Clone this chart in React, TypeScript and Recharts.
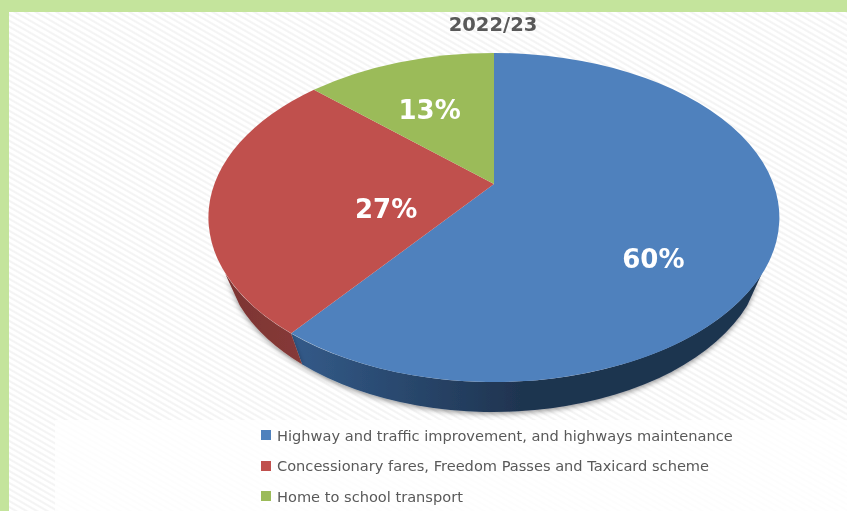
import React from "react";
import { PieChart, Pie, Legend } from "recharts";

const categories = [
    "Highway and traffic improvement, and highways maintenance",
    "Concessionary fares, Freedom Passes and Taxicard scheme",
    "Home to school transport",
];
const shares = [60.4, 26.5, 13.1];
const shareLabels = ["60%", "27%", "13%"];
const faceColors = ["#4f81bd", "#c0504d", "#9bbb59"];
const wallFills = ["url(#wallBlue)", "url(#wallRed)", "#6f8a3c"];

const tableData = categories.map((name, i) => ({
    name,
    value: shares[i],
    fill: faceColors[i],
    wall: wallFills[i],
}));

// the pie is tilted: hub sits above the middle of the ellipse
const HUB = { x: 494, y: 184 };
const TOP = { cx: 493.5, cy: 217.5, rx: 285.5, ry: 164.5 };
const BOTTOM = { cx: 493.5, cy: 250, rx: 270, ry: 162 };
const K = -0.2036;
const SX = 279.6;
const SY = 157.7;
// side wall only shows between these ellipse angles
const WALL_FROM = 110;
const WALL_TO = 250;

// nudge from the projected mid-slice spot, same order as categories
const labelNudge = [
    [-6, 43],
    [61, 17],
    [-4, 4],
];

// plane circle -> screen, clockwise degrees from 12 o'clock
const project = (deg: number, r = 1) => {
    const a = (deg * Math.PI) / 180;
    const X = r * Math.sin(a);
    const Y = -r * Math.cos(a);
    const w = 1 + K * Y;
    return { x: HUB.x + (SX * X) / w, y: HUB.y + (SY * Y) / w };
};

// parametric angle of a screen point on the top ellipse
const paramOf = (deg: number) => {
    const p = project(deg);
    let t = (Math.atan2((p.x - TOP.cx) / TOP.rx, -(p.y - TOP.cy) / TOP.ry) * 180) / Math.PI;
    if (t < 0) t += 360;
    if (deg > 1 && t < 1) t = 360;
    return t;
};

const onEllipse = (e: typeof TOP, t: number) => {
    const a = (t * Math.PI) / 180;
    return { x: e.cx + e.rx * Math.sin(a), y: e.cy - e.ry * Math.cos(a) };
};

const SliceShape = (props: any) => {
    const { startAngle, endAngle, fill, wall } = props;
    const from = 90 - startAngle;
    const to = 90 - endAngle;
    const t0 = paramOf(from);
    const t1 = to >= 359.99 ? 360 : paramOf(to);
    const p0 = project(from);
    const p1 = project(to);
    const large = t1 - t0 > 180 ? 1 : 0;
    const face = `M${HUB.x},${HUB.y} L${p0.x},${p0.y} A${TOP.rx},${TOP.ry} 0 ${large} 1 ${p1.x},${p1.y} Z`;

    const w0 = Math.max(t0, WALL_FROM);
    const w1 = Math.min(t1, WALL_TO);
    let side = null;
    if (w1 > w0) {
        const a = onEllipse(TOP, w0);
        const b = onEllipse(TOP, w1);
        const c = onEllipse(BOTTOM, w1);
        const d = onEllipse(BOTTOM, w0);
        side = (
            <path
                d={`M${a.x},${a.y} A${TOP.rx},${TOP.ry} 0 0 1 ${b.x},${b.y} L${c.x},${c.y} A${BOTTOM.rx},${BOTTOM.ry} 0 0 0 ${d.x},${d.y} Z`}
                fill={wall}
                filter="url(#softShadow)"
            />
        );
    }
    return (
        <g>
            {side}
            <path d={face} fill={fill} />
        </g>
    );
};

const renderShareLabel = (props: any) => {
    const { midAngle, index } = props;
    const p = project(90 - midAngle, 0.6);
    return (
        <text
            x={p.x + labelNudge[index][0]}
            y={p.y + labelNudge[index][1]}
            fill="#ffffff"
            textAnchor="middle"
            dominantBaseline="central"
            fontFamily="DejaVu Sans"
            fontWeight="bold"
            fontSize={26}
        >
            {shareLabels[index]}
        </text>
    );
};

const renderLegend = (props: any) => (
    <div>
        {props.payload.map((item: any) => (
            <div key={item.value} style={{ display: "flex", alignItems: "center", height: 30.5 }}>
                <span style={{ width: 10, height: 10, background: item.color, marginRight: 6 }} />
                <span style={{ fontFamily: "DejaVu Sans", fontSize: 14.6, color: "#595959", whiteSpace: "nowrap" }}>
                    {item.value}
                </span>
            </div>
        ))}
    </div>
);

const App: React.FC = () => {
    return (
        <div
            style={{
                position: "absolute",
                left: 0,
                top: 0,
                width: 847,
                height: 511,
                overflow: "hidden",
                background: "#c4e49c",
            }}
        >
            <div
                style={{
                    position: "absolute",
                    left: 9,
                    top: 12,
                    right: 0,
                    bottom: 0,
                    background:
                        "repeating-linear-gradient(30deg, #ffffff 0px, #ffffff 2px, #f4f4f4 3px, #f4f4f4 4px, #ffffff 5.2px)",
                }}
            />
            <div
                style={{
                    position: "absolute",
                    left: 55,
                    top: 420,
                    right: 0,
                    bottom: 0,
                    background: "rgba(255,255,255,0.8)",
                }}
            />
            <div style={{ position: "absolute", left: 0, top: 0, filter: "blur(0.4px)" }}>
                <PieChart width={847} height={511} margin={{ top: 0, right: 0, bottom: 0, left: 0 }}>
                    <defs>
                        <linearGradient id="wallBlue" gradientUnits="userSpaceOnUse" x1="290" y1="0" x2="520" y2="0">
                            <stop offset="0" stopColor="#335b8a" />
                            <stop offset="1" stopColor="#1f3450" />
                        </linearGradient>
                        <linearGradient id="wallRed" gradientUnits="userSpaceOnUse" x1="208" y1="0" x2="303" y2="0">
                            <stop offset="0" stopColor="#7a3331" />
                            <stop offset="1" stopColor="#863a38" />
                        </linearGradient>
                        <filter id="softShadow" x="-10%" y="-10%" width="120%" height="130%">
                            <feDropShadow dx="0" dy="2" stdDeviation="2.5" floodColor="#000000" floodOpacity="0.4" />
                        </filter>
                    </defs>
                    <text
                        x={493}
                        y={24}
                        textAnchor="middle"
                        dominantBaseline="central"
                        fontFamily="DejaVu Sans"
                        fontWeight="bold"
                        fontSize={19.5}
                        fill="#595959"
                    >
                        2022/23
                    </text>
                    <Pie
                        data={tableData}
                        dataKey="value"
                        nameKey="name"
                        cx={HUB.x}
                        cy={HUB.y}
                        outerRadius={280}
                        startAngle={90}
                        endAngle={-270}
                        stroke="none"
                        shape={SliceShape}
                        label={renderShareLabel}
                        labelLine={false}
                        isAnimationActive={false}
                    />
                    <Legend
                        content={renderLegend}
                        layout="vertical"
                        itemSorter={null}
                        wrapperStyle={{ left: 261, top: 420, width: 560, bottom: "auto" }}
                    />
                </PieChart>
            </div>
        </div>
    );
};

export default App;
